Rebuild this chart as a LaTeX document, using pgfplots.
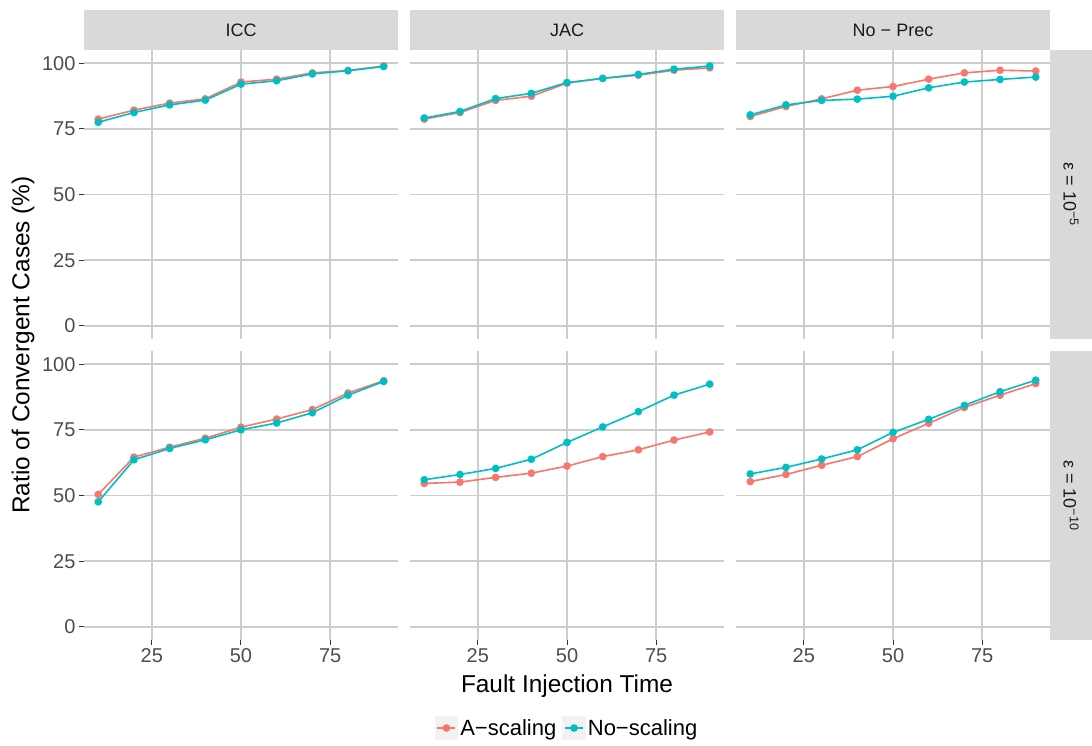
\documentclass[border=0pt]{standalone}
\usepackage{fontspec}
\setmainfont{Liberation Sans}
\usepackage{pgfplots}
\pgfplotsset{compat=1.18}
\usepackage{pgfplotstable}
\definecolor{cA}{HTML}{F8766D}
\definecolor{cN}{HTML}{00BFC4}
\definecolor{gridc}{HTML}{CDCDCD}
\definecolor{stripc}{HTML}{D9D9D9}
\definecolor{tickc}{HTML}{4D4D4D}
\definecolor{txtc}{HTML}{1A1A1A}

\pgfplotstableread{
x a n
10 78.7 77.5
20 82.1 81.2
30 84.8 84.1
40 86.4 85.9
50 92.8 92.0
60 93.9 93.3
70 96.3 95.9
80 97.2 97.1
90 98.9 98.7
}\ICCfive
\pgfplotstableread{
x a n
10 78.7 79.1
20 81.2 81.6
30 85.8 86.5
40 87.4 88.5
50 92.4 92.6
60 94.2 94.2
70 95.4 95.7
80 97.3 97.7
90 98.2 98.9
}\JACfive
\pgfplotstableread{
x a n
10 79.7 80.3
20 83.5 84.1
30 86.4 85.8
40 89.7 86.3
50 91.1 87.4
60 93.9 90.6
70 96.3 92.8
80 97.3 93.8
90 97.0 94.7
}\NPfive
\pgfplotstableread{
x a n
10 50.4 47.6
20 64.6 63.6
30 68.4 67.9
40 71.8 71.2
50 76.0 75.0
60 79.1 77.6
70 82.7 81.5
80 89.0 88.2
90 93.7 93.4
}\ICCten
\pgfplotstableread{
x a n
10 54.6 56.0
20 55.1 58.0
30 56.9 60.3
40 58.5 63.8
50 61.2 70.2
60 64.8 76.1
70 67.4 81.9
80 71.1 88.2
90 74.2 92.4
}\JACten
\pgfplotstableread{
x a n
10 55.3 58.2
20 58.0 60.7
30 61.5 63.9
40 64.8 67.4
50 71.6 74.0
60 77.5 79.0
70 83.5 84.3
80 88.2 89.5
90 92.6 93.9
}\NPten

\pgfplotsset{
  panel/.style={
    scale only axis, width=314pt, height=289pt,
    anchor=south west,
    xmin=6, xmax=94, ymin=-5, ymax=105,
    xtick={25,50,75}, ytick={0,25,50,75,100},
    grid=major, major grid style={gridc, line width=1.6pt},
    axis line style={draw=none},
    tick align=outside, major tick length=5pt,
    tick style={color=black!80, line width=1pt},
    xtick pos=left, ytick pos=left,
    tick label style={font=\fontsize{20}{20}\selectfont, text=tickc},
    /pgf/number format/assume math mode=true,
    every axis plot/.append style={line width=1.6pt, mark=*, mark size=3pt},
    legend image code/.code={
      \fill[black!5] (0pt,-11pt) rectangle (22pt,11pt);
      \draw[##1, mark repeat=2, mark phase=2] plot coordinates {(2pt,0pt) (11pt,0pt) (20pt,0pt)};
    },
  },
  toprow/.style={xticklabels={}, xtick style={draw=none}},
  notleft/.style={yticklabels={}, ytick style={draw=none}},
}

\begin{document}
\begin{tikzpicture}
\useasboundingbox (0,0) rectangle (1092pt,745pt);

% strips
\fill[stripc] (84pt,695pt) rectangle (398pt,735pt);
\fill[stripc] (410pt,695pt) rectangle (724pt,735pt);
\fill[stripc] (736pt,695pt) rectangle (1050pt,735pt);
\fill[stripc] (1050pt,406pt) rectangle (1092pt,695pt);
\fill[stripc] (1050pt,105pt) rectangle (1092pt,394pt);
\node[text=txtc, font=\fontsize{18}{18}\selectfont] at (241pt,715pt) {ICC};
\node[text=txtc, font=\fontsize{18}{18}\selectfont] at (567pt,715pt) {JAC};
\node[text=txtc, font=\fontsize{18}{18}\selectfont] at (893pt,715pt) {No − Prec};
\node[text=txtc, font=\fontsize{18}{18}\selectfont, rotate=-90] at (1071pt,550.5pt) {ε = 10\textsuperscript{−5}};
\node[text=txtc, font=\fontsize{18}{18}\selectfont, rotate=-90] at (1071pt,249.5pt) {ε = 10\textsuperscript{−10}};

% axis titles
\node[rotate=90, font=\fontsize{24.4}{24.4}\selectfont] at (23pt,400pt) {Ratio of Convergent Cases (\%)};
\node[font=\fontsize{24.4}{24.4}\selectfont] at (567pt,59pt) {Fault Injection Time};

% top row
\begin{axis}[panel, toprow, at={(84pt,406pt)}]
\addplot[cA] table[x=x,y=a]{\ICCfive};
\addplot[cN] table[x=x,y=n]{\ICCfive};
\end{axis}
\begin{axis}[panel, toprow, notleft, at={(410pt,406pt)}]
\addplot[cA] table[x=x,y=a]{\JACfive};
\addplot[cN] table[x=x,y=n]{\JACfive};
\end{axis}
\begin{axis}[panel, toprow, notleft, at={(736pt,406pt)}]
\addplot[cA] table[x=x,y=a]{\NPfive};
\addplot[cN] table[x=x,y=n]{\NPfive};
\end{axis}

% bottom row
\begin{axis}[panel, at={(84pt,105pt)}]
\addplot[cA] table[x=x,y=a]{\ICCten};
\addplot[cN] table[x=x,y=n]{\ICCten};
\end{axis}
\begin{axis}[panel, notleft, at={(410pt,105pt)},
  legend columns=2,
  legend style={at={(axis description cs:0.5,-0.3045)}, anchor=center, draw=none, fill=none,
    font=\fontsize{22}{22}\selectfont, /tikz/every even column/.append style={column sep=4pt}},
  legend cell align=left]
\addplot[cA] table[x=x,y=a]{\JACten};
\addlegendentry{A−scaling}
\addplot[cN] table[x=x,y=n]{\JACten};
\addlegendentry{No−scaling}
\end{axis}
\begin{axis}[panel, notleft, at={(736pt,105pt)}]
\addplot[cA] table[x=x,y=a]{\NPten};
\addplot[cN] table[x=x,y=n]{\NPten};
\end{axis}
\end{tikzpicture}
\end{document}
